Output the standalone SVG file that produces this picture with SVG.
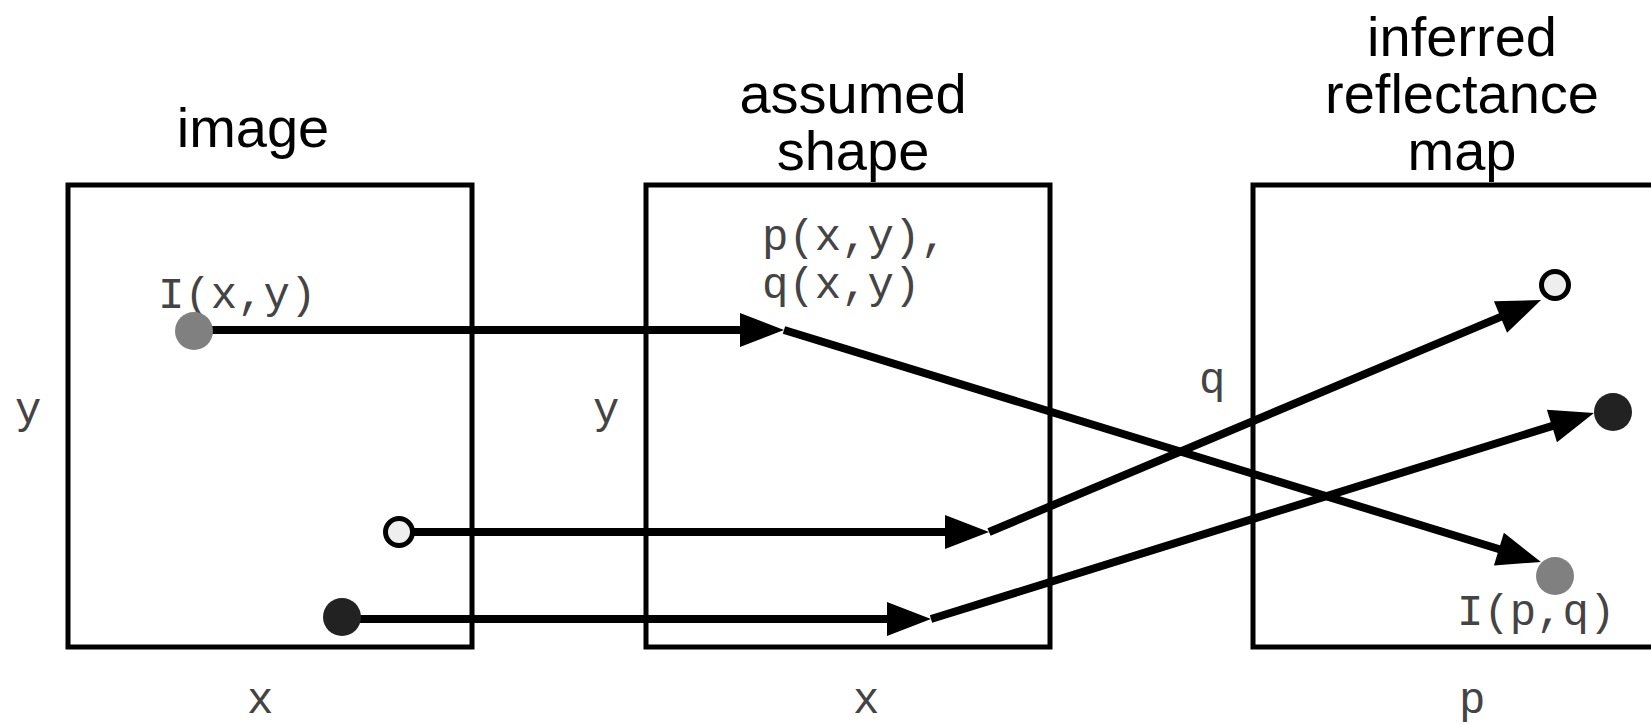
<svg xmlns="http://www.w3.org/2000/svg" width="1651" height="724" viewBox="0 0 1651 724">
  <style>
    .box { fill: none; stroke: #000; stroke-width: 5; }
    .title { font-family: "Liberation Sans", Arial, sans-serif; font-size: 56px; fill: #000; text-anchor: middle; }
    .lbl { font-family: "Liberation Mono", "Courier New", monospace; font-size: 44px; fill: #444; }
    .conn { fill: none; stroke: #000; stroke-width: 8; }
    .gray { fill: #808080; }
    .dark { fill: #222; }
    .light { fill: #eeeeee; stroke: #000; stroke-width: 5; }
  </style>
  <defs>
    <marker id="arrow" markerUnits="userSpaceOnUse" markerWidth="46" markerHeight="36" refX="32" refY="18" orient="auto" overflow="visible">
      <path d="M0,1 L44,18 L0,35 Z" fill="#000"/>
    </marker>
  </defs>
  <rect width="1651" height="724" fill="#fff"/>

  <g id="image-panel">
    <rect class="box" x="68" y="185" width="404" height="462"/>
    <text class="title" x="253" y="147">image</text>
    <text class="lbl" x="15" y="423">y</text>
    <text class="lbl" x="247" y="713">x</text>
    <text class="lbl" x="158" y="308">I(x,y)</text>
  </g>

  <g id="shape-panel">
    <rect class="box" x="646" y="185" width="404" height="462"/>
    <text class="title" x="853" y="113">assumed</text>
    <text class="title" x="853" y="170">shape</text>
    <text class="lbl" x="593" y="423">y</text>
    <text class="lbl" x="853" y="713">x</text>
    <text class="lbl" x="762" y="250">p(x,y),</text>
    <text class="lbl" x="762" y="298">q(x,y)</text>
  </g>

  <g id="reflectance-panel">
    <rect class="box" x="1253" y="185" width="420" height="462"/>
    <text class="title" x="1462" y="56">inferred</text>
    <text class="title" x="1462" y="113">reflectance</text>
    <text class="title" x="1462" y="170">map</text>
    <text class="lbl" x="1199" y="393">q</text>
    <text class="lbl" x="1459" y="713">p</text>
    <text class="lbl" x="1457" y="625">I(p,q)</text>
  </g>

  <g id="connectors">
    <line class="conn" x1="194" y1="330" x2="772" y2="330" marker-end="url(#arrow)"/>
    <line class="conn" x1="784" y1="330" x2="1529.5" y2="558.5" marker-end="url(#arrow)"/>
    <line class="conn" x1="399" y1="532" x2="977" y2="532" marker-end="url(#arrow)"/>
    <line class="conn" x1="989" y1="532" x2="1530" y2="304.6" marker-end="url(#arrow)"/>
    <line class="conn" x1="342" y1="619" x2="919" y2="619" marker-end="url(#arrow)"/>
    <line class="conn" x1="931" y1="619" x2="1582.5" y2="416.6" marker-end="url(#arrow)"/>
  </g>

  <g id="dot-image-gray"><circle class="gray" cx="194" cy="331" r="19"/></g>
  <g id="dot-image-light"><circle class="light" cx="399" cy="532" r="13.5"/></g>
  <g id="dot-image-dark"><circle class="dark" cx="342" cy="617" r="19"/></g>
  <g id="dot-map-light"><circle class="light" cx="1555" cy="285" r="13.5"/></g>
  <g id="dot-map-dark"><circle class="dark" cx="1613" cy="412" r="19"/></g>
  <g id="dot-map-gray"><circle class="gray" cx="1555" cy="576" r="19"/></g>
</svg>
